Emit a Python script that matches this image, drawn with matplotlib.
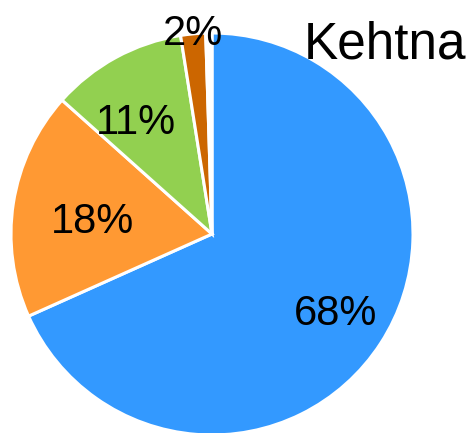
import numpy as np
import matplotlib
matplotlib.use("Agg")
import matplotlib.pyplot as plt

categories = ["A", "B", "C", "D", "E"]
values = [68.3, 18.3, 10.9, 2.0, 0.5]
labels = ["68%", "18%", "11%", "2%", ""]
colors = ["#3399FF", "#FF9933", "#92D050", "#CC6600", "#FFFFFF"]
title = "Kehtna"

W, H = 475, 433
fig = plt.figure(figsize=(W / 100, H / 100), dpi=100)
ax = fig.add_axes([0, 0, 1, 1])

R = 201.0
cx, cy = 212.0, 234.0
ax.set_xlim(-cx / R, (W - cx) / R)
ax.set_ylim(-(H - cy) / R, cy / R)
ax.set_aspect("equal")
ax.axis("off")

wedges, _ = ax.pie(values, colors=colors, startangle=90, counterclock=False,
                   radius=1.0, center=(0, 0), frame=True,
                   wedgeprops=dict(edgecolor="white", linewidth=2.2))
ax.set_xlim(-cx / R, (W - cx) / R)
ax.set_ylim(-(H - cy) / R, cy / R)
ax.axis("off")

label_r = [0.73, 0.6, 0.67, 1.0, 0]
label_dt = [0, 3, 6, 0, 0]
for w, lab, r, dt in zip(wedges, labels, label_r, label_dt):
    if not lab:
        continue
    ang = np.deg2rad((w.theta1 + w.theta2) / 2 + dt)
    ax.text(r * np.cos(ang), r * np.sin(ang), lab, ha="center", va="center",
            fontsize=30, family="Liberation Sans", color="black")

fig.text(385 / W, 1 - 45 / H, title, ha="center", va="center",
         fontsize=37, family="Liberation Sans", color="black")

fig.savefig("out.png", dpi=100)
